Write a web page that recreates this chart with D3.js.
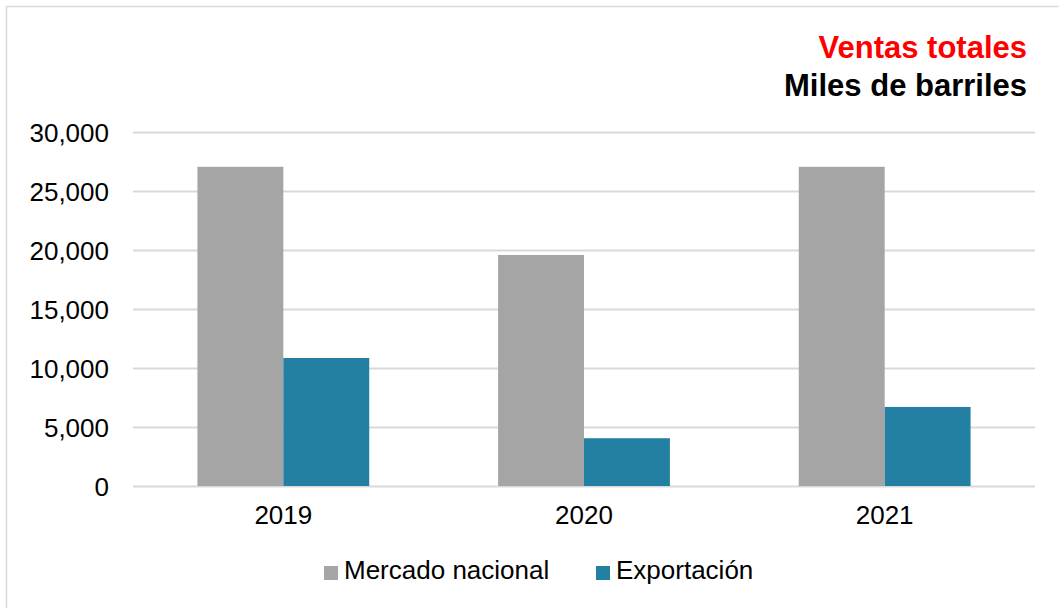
<!DOCTYPE html>
<html>
<head>
<meta charset="utf-8">
<script src="https://cdn.jsdelivr.net/npm/d3@7"></script>
<style>
  body { margin: 0; background: #fff; }
  text { font-family: "Liberation Sans", Arial, sans-serif; }
</style>
</head>
<body>
<div id="chart"></div>
<script>
// data (miles de barriles)
const years = ["2019", "2020", "2021"];
const seriesNames = ["Mercado nacional", "Exportación"];
const mercado = [27050, 19580, 27050];
const exportacion = [10850, 4050, 6700];
const yTicks = [0, 5000, 10000, 15000, 20000, 25000, 30000];
const colors = ["#a5a5a5", "#2380a2"];

const w = 1059, h = 608;
const margin = { top: 132, bottom: 122, left: 133, right: 24 };

const svg = d3.select("#chart").append("svg")
  .attr("width", w)
  .attr("height", h);

// outer frame
svg.append("rect")
  .attr("x", 6.5).attr("y", 6.5)
  .attr("width", w + 20).attr("height", h + 20)
  .attr("fill", "none")
  .attr("stroke", "#d9d9d9")
  .attr("stroke-width", 1.5);

const x = d3.scaleBand()
  .domain(years)
  .range([margin.left, w - margin.right]);

const xs = d3.scaleBand()
  .domain(seriesNames)
  .range([0, x.bandwidth()])
  .paddingInner(0)
  .paddingOuter(0.75);

const y = d3.scaleLinear()
  .domain([0, 30000])
  .range([h - margin.bottom, margin.top]);

// gridlines
const grid = d3.axisLeft(y)
  .tickValues(yTicks)
  .tickSize(-(w - margin.left - margin.right))
  .tickFormat("");
svg.append("g")
  .attr("transform", "translate(" + margin.left + ",0)")
  .call(grid)
  .call(g => g.select(".domain").remove())
  .call(g => g.selectAll("line").attr("stroke", "#d9d9d9").attr("stroke-width", 2));

// y axis labels
const yAxis = d3.axisLeft(y)
  .tickValues(yTicks)
  .tickSize(0)
  .tickPadding(24)
  .tickFormat(d3.format(","));
svg.append("g")
  .attr("transform", "translate(" + margin.left + ",0)")
  .call(yAxis)
  .call(g => g.select(".domain").remove())
  .call(g => g.selectAll("text")
    .attr("fill", "#000")
    .style("font-size", "26px")
    .attr("dy", "0.35em"));

// bars
const rows = years.map((yr, i) => ({ year: yr, values: [mercado[i], exportacion[i]] }));
const groups = svg.selectAll(".year")
  .data(rows)
  .enter().append("g")
  .attr("transform", d => "translate(" + x(d.year) + ",0)");

groups.selectAll("rect")
  .data(d => d.values.map((v, i) => ({ name: seriesNames[i], value: v, i: i })))
  .enter().append("rect")
  .attr("x", d => xs(d.name))
  .attr("width", xs.bandwidth())
  .attr("y", d => y(d.value))
  .attr("height", d => y(0) - y(d.value))
  .attr("fill", d => colors[d.i]);

// x axis labels
const xAxis = d3.axisBottom(x).tickSize(0).tickPadding(20);
svg.append("g")
  .attr("transform", "translate(0," + y(0) + ")")
  .call(xAxis)
  .call(g => g.select(".domain").remove())
  .call(g => g.selectAll("text")
    .attr("fill", "#000")
    .style("font-size", "26px"));

// title
svg.append("text")
  .attr("x", 1027).attr("y", 58)
  .attr("text-anchor", "end")
  .attr("fill", "#ff0000")
  .style("font-size", "31px")
  .style("font-weight", "bold")
  .text("Ventas totales");
svg.append("text")
  .attr("x", 1027).attr("y", 96)
  .attr("text-anchor", "end")
  .attr("fill", "#000")
  .style("font-size", "31px")
  .style("font-weight", "bold")
  .text("Miles de barriles");

// legend
const legendX = [324, 596];
const legend = svg.selectAll(".legend")
  .data(seriesNames)
  .enter().append("g")
  .attr("transform", (d, i) => "translate(" + legendX[i] + ",566)");
legend.append("rect")
  .attr("width", 14).attr("height", 14)
  .attr("fill", (d, i) => colors[i]);
legend.append("text")
  .attr("x", 20).attr("y", 13)
  .attr("fill", "#000")
  .style("font-size", "26px")
  .text(d => d);
</script>
</body>
</html>
